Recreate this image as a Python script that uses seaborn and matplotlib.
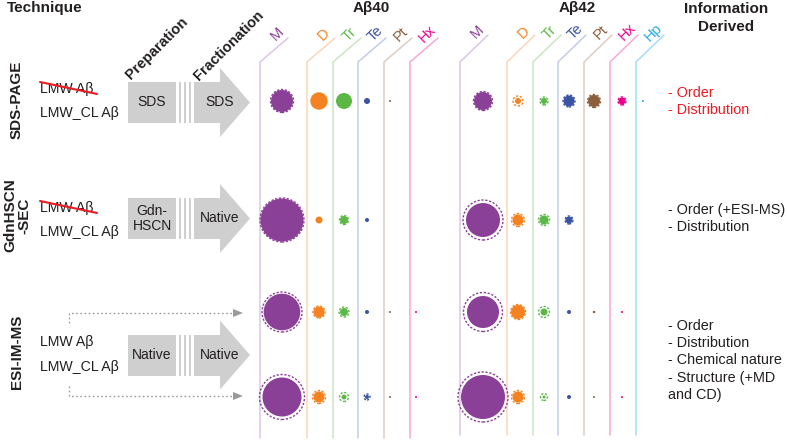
import matplotlib
matplotlib.use("Agg")
import matplotlib.pyplot as plt
import numpy as np
import pandas as pd
import seaborn as sns
from matplotlib.patches import Polygon, Rectangle

# ---------------- data ----------------
species40 = ["M", "D", "Tr", "Te", "Pt", "Hx"]
species42 = ["M", "D", "Tr", "Te", "Pt", "Hx", "Hp"]
techniques = ["SDS-PAGE", "GdnHSCN\n-SEC", "ESI-IM-MS"]
samples = ["LMW Aβ", "LMW_CL Aβ"]
prep_labels = ["SDS", "Gdn-\nHSCN", "Native"]
frac_labels = ["SDS", "Native", "Native"]
info_sds = ["- Order", "- Distribution"]
info_sec = ["- Order (+ESI-MS)", "- Distribution"]
info_esi = ["- Order", "- Distribution", "- Chemical nature", "- Structure (+MD", "and CD)"]

# bubble radius (px) of each oligomer, per technique row
sds_ab40 = [11, 8.7, 8, 3, 1, 0]
sds_ab42 = [9, 3, 3, 5.5, 6, 3.5, 1]
sec_ab40 = [21.5, 3.5, 4, 2, 0, 0]
sec_ab42 = [17, 5.5, 4.5, 3.5, 0, 0, 0]
esi_lmw_ab40 = [18.3, 5.5, 4, 2, 1, 1]
esi_lmw_ab42 = [16, 7, 3.5, 2, 1.2, 1, 0]
esi_cl_ab40 = [19.5, 5.5, 2.5, 2, 1, 1]
esi_cl_ab42 = [22, 5.5, 1.5, 2, 1, 1, 0]
# dashed halo radius (0 = none)
sds_ring40 = [11.5, 0, 0, 0, 0, 0]
sds_ring42 = [9.5, 5, 4, 6, 6.5, 4, 0]
sec_ring40 = [22, 0, 4.5, 0, 0, 0]
sec_ring42 = [20, 6.5, 5.5, 4, 0, 0, 0]
esi_lmw_ring40 = [20, 6, 5, 0, 0, 0]
esi_lmw_ring42 = [19.5, 7.5, 5.5, 0, 0, 0, 0]
esi_cl_ring40 = [22.5, 6.5, 4.5, 3, 0, 0]
esi_cl_ring42 = [25, 6.5, 3.5, 0, 0, 0, 0]

# ---------------- style / layout ----------------
dark = {"M": "#8A4097", "D": "#F58220", "Tr": "#5BB847", "Te": "#3A53A4",
        "Pt": "#8B5E3C", "Hx": "#EC008C", "Hp": "#27AAE1"}
light = {"M": "#DCC6E6", "D": "#FDD6B8", "Tr": "#CBE6C3", "Te": "#C4CBE8",
         "Pt": "#DDCDC3", "Hx": "#F9A8D4", "Hp": "#A6DDF5"}
TXT = "#231F20"
RED = "#ED1C24"
GRAY = "#CFCFCF"

lines40 = [260, 307, 333, 358, 384, 410]
dots40 = [282, 319, 344, 367, 390, 416]
lines42 = [460, 507, 533, 558, 584, 610, 636]
dots42 = [483, 518, 544, 569, 594, 622, 643]
row_y = [101, 220, 312, 397]

sns.set_theme(style="white")
plt.rcParams["font.family"] = ["Liberation Sans", "DejaVu Sans"]

fig = plt.figure(figsize=(7.87, 4.41), dpi=100)
ax = fig.add_axes([0, 0, 1, 1])

PX = 72.0 / 100.0  # points per pixel


def area(r):
    return (2 * r * PX) ** 2


# ---------------- bubbles ----------------
rows40 = [(sds_ab40, sds_ring40), (sec_ab40, sec_ring40),
          (esi_lmw_ab40, esi_lmw_ring40), (esi_cl_ab40, esi_cl_ring40)]
rows42 = [(sds_ab42, sds_ring42), (sec_ab42, sec_ring42),
          (esi_lmw_ab42, esi_lmw_ring42), (esi_cl_ab42, esi_cl_ring42)]
recs = []
for y, (a40, g40), (a42, g42) in zip(row_y, rows40, rows42):
    for s, xd, r, g in zip(species40, dots40, a40, g40):
        recs.append(dict(x=xd, y=y, species=s, r=r, ring=g))
    for s, xd, r, g in zip(species42, dots42, a42, g42):
        recs.append(dict(x=xd, y=y, species=s, r=r, ring=g))
df = pd.DataFrame(recs)
dfs = df[df.r > 0]
sns.scatterplot(data=dfs, x="x", y="y", hue="species", palette=dark,
                size="r", sizes={r: area(r) for r in dfs.r.unique()},
                linewidth=0, legend=False, ax=ax, zorder=3)
ax.set_xlim(0, 787)
ax.set_ylim(441, 0)
ax.axis("off")
dr = df[df.ring > 0]
ax.scatter(dr.x, dr.y, s=[area(g) for g in dr.ring], facecolors="none",
           edgecolors=[dark[s] for s in dr.species], linewidths=1.0,
           linestyle=(0, (1.6, 1.2)), zorder=4)

# ---------------- column guide lines ----------------
for lines, sp, top, bot, lab_y in [(lines40, species40, 38, 438, 34),
                                     (lines42, species42, 35, 435, 32)]:
    for xv, s in zip(lines, sp):
        ax.plot([xv, xv, xv + 28], [bot, 62, top], color=light[s], lw=1.1,
                solid_joinstyle="miter", zorder=1)
        ax.text(xv + 17, lab_y, s, color=dark[s], fontsize=10.5, rotation=45,
                ha="center", va="center")

ax.text(371, 8, "Aβ40", fontsize=11, fontweight="bold", ha="center", va="center", color=TXT)
ax.text(577, 8, "Aβ42", fontsize=11, fontweight="bold", ha="center", va="center", color=TXT)
ax.text(726, 9, "Information", fontsize=11, fontweight="bold", ha="center", va="center", color=TXT)
ax.text(726, 27, "Derived", fontsize=11, fontweight="bold", ha="center", va="center", color=TXT)
ax.text(45, 8, "Technique", fontsize=11, fontweight="bold", ha="center", va="center", color=TXT)

# ---------------- left side: techniques & arrows ----------------
arrow_y = [102.5, 218.5, 355]
for ti, (tech, cy) in enumerate(zip(techniques, arrow_y)):
    ax.text(17, cy - 3, tech, fontsize=11, fontweight="bold", rotation=90,
            ha="center", va="center", color=TXT, linespacing=1.0)
    h = 20.5
    ax.add_patch(Rectangle((128, cy - h), 48, 2 * h, color=GRAY, lw=0, zorder=1))
    for sx in [178.5, 183.5, 188.5]:
        ax.add_patch(Rectangle((sx, cy - h), 2.5, 2 * h, color=GRAY, lw=0, zorder=1))
    ax.add_patch(Rectangle((193.5, cy - h), 27, 2 * h, color=GRAY, lw=0, zorder=1))
    ax.add_patch(Polygon([[220, cy - 34.5], [220, cy + 34.5], [250, cy]],
                         closed=True, color=GRAY, lw=0, zorder=1))
    ax.text(152, cy, prep_labels[ti], fontsize=10, ha="center", va="center",
            color=TXT, linespacing=1.15)
    ax.text(220, cy, frac_labels[ti], fontsize=10, ha="center", va="center", color=TXT)

ax.text(157, 48, "Preparation", fontsize=10.5, fontweight="bold", rotation=45,
        ha="center", va="center", color=TXT)
ax.text(229, 46, "Fractionation", fontsize=10.5, fontweight="bold", rotation=45,
        ha="center", va="center", color=TXT)

sample_y = [(89, 113), (208, 232), (342, 367)]
for ti, (y1, y2) in enumerate(sample_y):
    ax.text(40, y1, samples[0], fontsize=10.2, ha="left", va="center", color=TXT)
    ax.text(40, y2, samples[1], fontsize=10.2, ha="left", va="center", color=TXT)
    if ti < 2:
        ax.plot([40, 97], [y1 - 7, y1 + 5], color=RED, lw=1.5, zorder=5)

# dotted arrows for ESI-IM-MS
for y0, y1 in [(323, 313), (386, 396)]:
    ax.plot([69, 69, 234], [y0, y1, y1], color="#9A9A9A", lw=1.0,
            linestyle=(0, (1.2, 1.8)), zorder=2)
    ax.add_patch(Polygon([[233, y1 - 4], [233, y1 + 4], [243, y1]], closed=True,
                         color="#9A9A9A", lw=0, zorder=2))

# ---------------- information derived ----------------
for lines_txt, y0, col in [(info_sds, 93, RED), (info_sec, 210, TXT), (info_esi, 326, TXT)]:
    for k, t in enumerate(lines_txt):
        ax.text(668, y0 + k * 17.2, t, fontsize=10.4, ha="left", va="center", color=col)

fig.savefig("out.png", dpi=100)
